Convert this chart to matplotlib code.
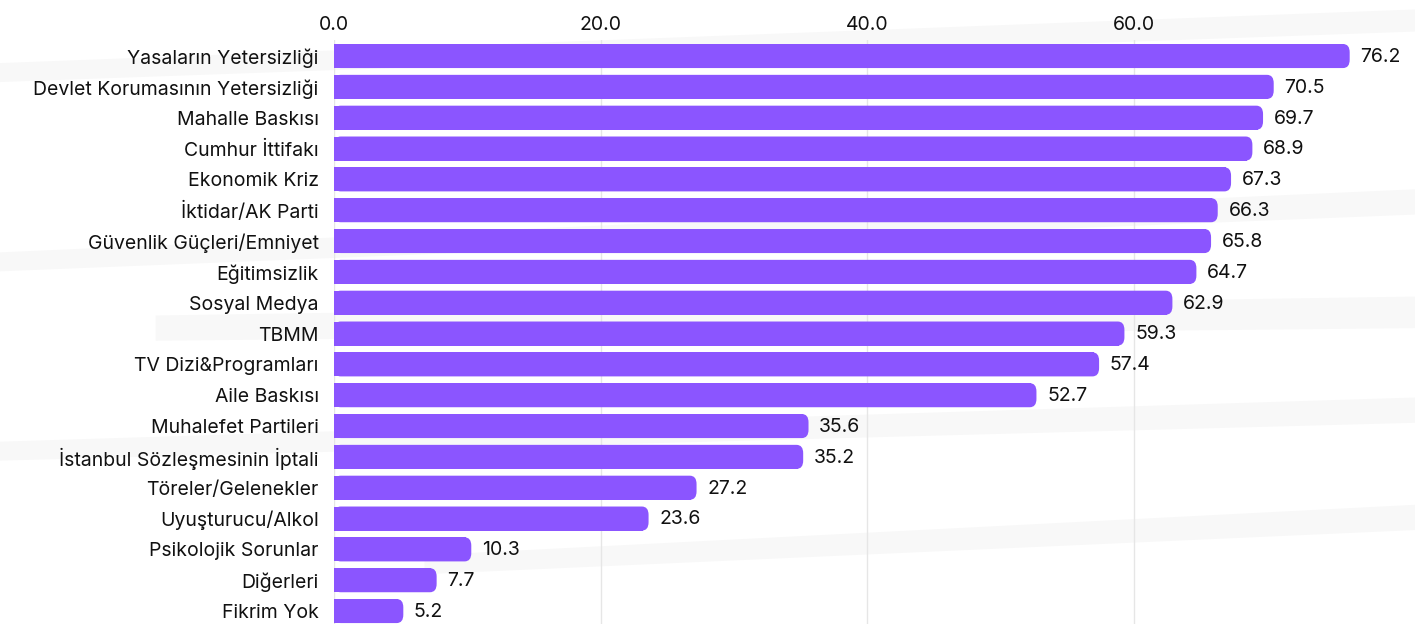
import matplotlib
matplotlib.use('Agg')
import matplotlib.pyplot as plt
from matplotlib.patches import FancyBboxPatch, Polygon

categories = [
    "Yasaların Yetersizliği", "Devlet Korumasının Yetersizliği", "Mahalle Baskısı",
    "Cumhur İttifakı", "Ekonomik Kriz", "İktidar/AK Parti", "Güvenlik Güçleri/Emniyet",
    "Eğitimsizlik", "Sosyal Medya", "TBMM", "TV Dizi&Programları", "Aile Baskısı",
    "Muhalefet Partileri", "İstanbul Sözleşmesinin İptali", "Töreler/Gelenekler",
    "Uyuşturucu/Alkol", "Psikolojik Sorunlar", "Diğerleri", "Fikrim Yok",
]
values = [76.2, 70.5, 69.7, 68.9, 67.3, 66.3, 65.8, 64.7, 62.9, 59.3, 57.4, 52.7,
          35.6, 35.2, 27.2, 23.6, 10.3, 7.7, 5.2]
xticks = [0, 20, 40, 60]

plt.rcParams['font.family'] = ['Inter', 'DejaVu Sans']
purple = '#8b55ff'

fig = plt.figure(figsize=(14.15, 6.31), dpi=100)

# faint background swooshes, in their own axes behind everything
bg = fig.add_axes([0, 0, 1, 1], zorder=-1)
bg.set_xlim(0, 1)
bg.set_ylim(0, 1)
bg.axis('off')
for pts in [[(0, 0.90), (1, 0.985), (1, 0.95), (0, 0.87)],
            [(0, 0.60), (1, 0.70), (1, 0.66), (0, 0.57)],
            [(0.11, 0.50), (1, 0.53), (1, 0.48), (0.11, 0.46)],
            [(0, 0.30), (1, 0.37), (1, 0.33), (0, 0.27)],
            [(0.3, 0.12), (1, 0.20), (1, 0.16), (0.3, 0.09)]]:
    bg.add_patch(Polygon(pts, closed=True, facecolor='#f8f8f8', edgecolor='none'))

ax = fig.add_axes([334 / 1415, 7 / 631, 1081 / 1415, 584 / 631])
ax.patch.set_alpha(0)

n = len(values)
h = 0.78
ypos = list(range(n))
ax.barh(ypos, [v - 0.4 for v in values], height=h, color=purple, zorder=2)
for y, v in zip(ypos, values):
    ax.add_patch(FancyBboxPatch((0, y - h / 2), v, h,
                                boxstyle="round,pad=0,rounding_size=0.5",
                                mutation_aspect=0.54,
                                facecolor=purple, edgecolor='none', zorder=2))
    ax.text(v + 0.8, y + 0.03, f"{v:.1f}", va='center', ha='left', fontsize=14, color='#111111')

ax.set_xlim(0, 81.1)
ax.set_ylim(n - 1 + 0.42, -0.52)
ax.set_yticks(ypos)
ax.set_yticklabels(categories, fontsize=14, color='#111111')
ax.set_xticks(xticks)
ax.set_xticklabels([f"{t:.1f}" for t in xticks], fontsize=14, color='#111111')
ax.xaxis.tick_top()
ax.tick_params(axis='y', length=0, pad=11)
ax.tick_params(axis='x', length=0, pad=4)
ax.grid(axis='x', color='#e6e6e6', linewidth=1, zorder=0)
ax.set_axisbelow(True)
for s in ax.spines.values():
    s.set_visible(False)

fig.savefig('out.png', dpi=100)
